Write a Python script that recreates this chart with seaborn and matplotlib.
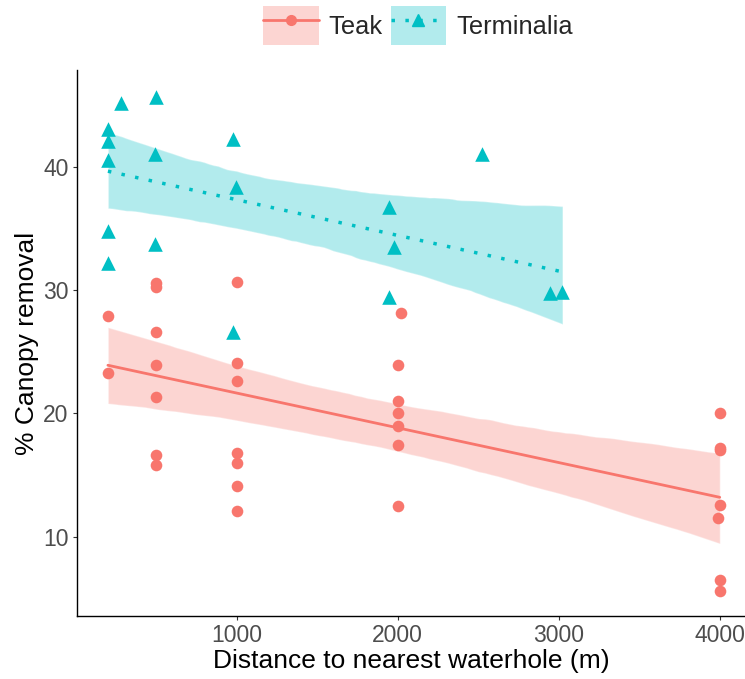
import seaborn as sns
import pandas as pd
import matplotlib.pyplot as plt
from matplotlib.patches import Patch
from matplotlib.lines import Line2D

# Teak (circles)
teak_dist = [200, 200,
             500, 500, 500, 500, 500, 500, 500,
             1000, 1000, 1000, 1000, 1000, 1000, 1000,
             2020, 2000, 2000, 2000, 2000, 2000, 2000,
             4000, 4000, 4000, 4000, 3990, 4000, 4000]
teak_canopy = [27.9, 23.3,
               30.6, 30.3, 26.6, 23.9, 21.3, 16.6, 15.8,
               30.7, 24.1, 22.6, 16.8, 16.0, 14.1, 12.1,
               28.2, 23.9, 21.0, 20.0, 19.0, 17.4, 12.5,
               20.0, 17.2, 17.0, 12.6, 11.5, 6.5, 5.6]

# Terminalia (triangles)
term_dist = [280, 500, 200, 200, 200, 200, 200, 495, 495,
             980, 995, 980, 1946, 1977, 1946, 2522, 2944, 3023]
term_canopy = [45.2, 45.7, 43.1, 42.1, 40.6, 34.8, 32.2, 41.1, 33.8,
               42.3, 38.4, 26.6, 36.8, 33.5, 29.5, 41.1, 29.8, 29.9]

teak_col = "#F8766D"
term_col = "#00BFC4"

sns.set_theme(style="white")
plt.rcParams['font.family'] = ['Liberation Sans', 'DejaVu Sans']

teak = pd.DataFrame({'dist': teak_dist, 'canopy': teak_canopy})
term = pd.DataFrame({'dist': term_dist, 'canopy': term_canopy})

fig = plt.figure(figsize=(7.45, 6.79), dpi=100)
ax = fig.add_axes([77 / 745, 1 - 616 / 679, 668 / 745, 546 / 679])

sns.regplot(x='dist', y='canopy', data=teak, ax=ax, color=teak_col, marker='o',
            seed=0, scatter_kws={'s': 70, 'alpha': 1, 'linewidths': 0, 'zorder': 3},
            line_kws={'lw': 2.0, 'ls': '-', 'zorder': 2})
sns.regplot(x='dist', y='canopy', data=term, ax=ax, color=term_col, marker='^',
            seed=0, scatter_kws={'s': 110, 'alpha': 1, 'linewidths': 0, 'zorder': 3},
            line_kws={'lw': 2.5, 'ls': (0, (1, 3)), 'zorder': 2})

# ggplot-like ribbon opacity
for coll in ax.collections:
    if coll.__class__.__name__ in ('PolyCollection', 'FillBetweenPolyCollection'):
        coll.set_alpha(0.3)
        coll.set_zorder(1)

ax.set_xlim(8, 4157)
ax.set_ylim(3.55, 47.9)
ax.set_xticks([1000, 2000, 3000, 4000])
ax.set_yticks([10, 20, 30, 40])
ax.set_xlabel("Distance to nearest waterhole (m)", fontsize=19, color='black', labelpad=1)
ax.set_ylabel("% Canopy removal", fontsize=19, color='black', labelpad=3)
ax.tick_params(axis='both', labelsize=16.5, labelcolor='#4D4D4D', color='#333333',
               length=3, width=0.8, direction='out', bottom=True, left=True, pad=3)
for s in ['top', 'right']:
    ax.spines[s].set_visible(False)
for s in ['left', 'bottom']:
    ax.spines[s].set_color('black')
    ax.spines[s].set_linewidth(1.0)

handles = [
    (Patch(facecolor=teak_col, alpha=0.3, edgecolor='none'),
     Line2D([], [], color=teak_col, lw=2.0, marker='o', markersize=7)),
    (Patch(facecolor=term_col, alpha=0.3, edgecolor='none'),
     Line2D([], [], color=term_col, lw=2.5, ls=(0, (1, 3)), marker='^', markersize=8)),
]
fig.legend(handles, ['Teak', 'Terminalia'], loc='center', bbox_to_anchor=(0.561, 0.962),
           ncol=2, frameon=False, fontsize=18.3, handlelength=2.2, handleheight=2.0,
           handletextpad=0.4, columnspacing=0.3)

fig.savefig("out.png", dpi=100)
